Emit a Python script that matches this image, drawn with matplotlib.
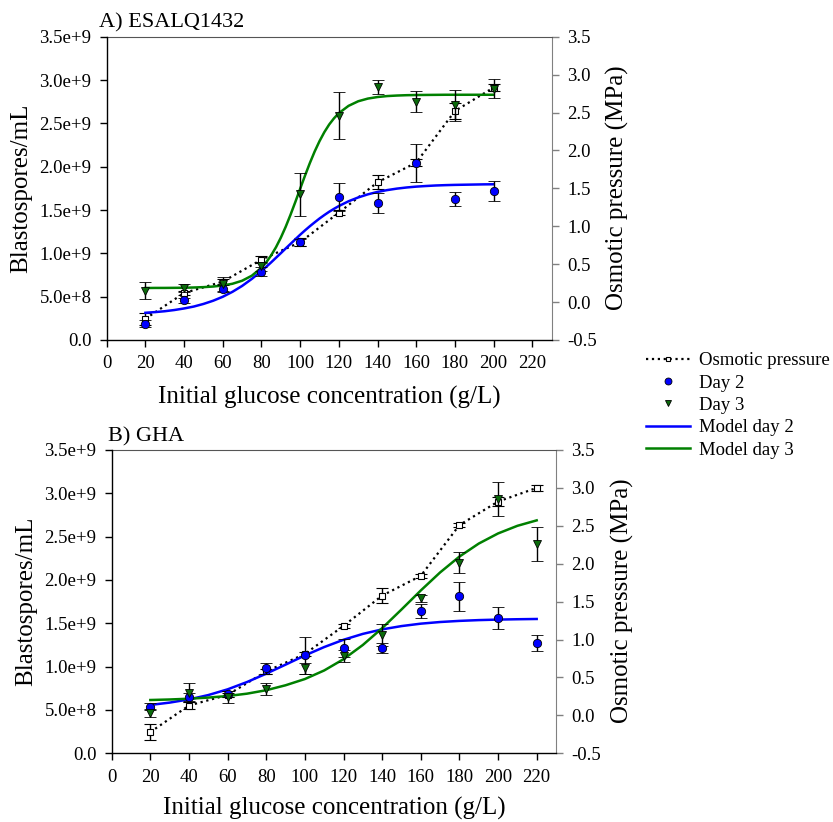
#!/usr/bin/env python
'''
Blastospore yield vs. initial glucose, two isolates,
with osmotic pressure of the media on the right axis.
'''
import numpy as np
import matplotlib
matplotlib.use('Agg')
import matplotlib.pyplot as plt
from matplotlib.lines import Line2D

plt.rcParams['font.family'] = ['Liberation Serif', 'DejaVu Serif']

# Constants
TICKFONT = 13.5
LABFONT = 18
TITLEFONT = 16

FIG_W = 8.33
FIG_H = 8.22

BLUE = '#0000ff'
GREEN = '#008000'
TRI = '#0b6b0b'
GRAY = '#808080'

# ---------------- data (blastospores in 1e9/mL, pressure in MPa) ----------------
conc_a = [20, 40, 60, 80, 100, 120, 140, 160, 180, 200]
osm_a = [-0.22, 0.12, 0.27, 0.56, 0.79, 1.18, 1.58, 1.84, 2.52, 2.83]
osm_a_err = [0.08, 0.03, 0.03, 0.05, 0.05, 0.03, 0.09, 0.05, 0.10, 0.05]
day2_a = [0.19, 0.46, 0.59, 0.79, 1.13, 1.65, 1.585, 2.04, 1.625, 1.72]
day2_a_err = [0.04, 0.03, 0.04, 0.05, 0.04, 0.16, 0.115, 0.22, 0.08, 0.12]
day3_a = [0.57, 0.60, 0.65, 0.85, 1.68, 2.59, 2.92, 2.75, 2.71, 2.90]
day3_a_err = [0.095, 0.045, 0.08, 0.05, 0.25, 0.27, 0.08, 0.12, 0.18, 0.11]

conc_b = [20, 40, 60, 80, 100, 120, 140, 160, 180, 200, 220]
osm_b = [-0.22, 0.13, 0.27, 0.58, 0.81, 1.18, 1.58, 1.84, 2.51, 2.82, 3.00]
osm_b_err = [0.105, 0.05, 0.03, 0.03, 0.03, 0.03, 0.097, 0.03, 0.03, 0.06, 0.04]
day2_b = [0.54, 0.65, 0.685, 0.98, 1.13, 1.215, 1.21, 1.64, 1.81, 1.56, 1.27]
day2_b_err = [0.045, 0.05, 0.03, 0.065, 0.21, 0.105, 0.058, 0.08, 0.17, 0.127, 0.095]
day3_b = [0.46, 0.70, 0.65, 0.745, 0.98, 1.12, 1.365, 1.79, 2.20, 2.93, 2.41]
day3_b_err = [0.046, 0.108, 0.073, 0.07, 0.06, 0.07, 0.13, 0.04, 0.125, 0.196, 0.196]

# fitted model curves
fit_x_a = [20, 25, 30, 35, 40, 45, 50, 55, 60, 65, 70, 75, 80, 82.5, 85, 87.5, 90, 92.5,
           95, 97.5, 100, 102.5, 105, 107.5, 110, 112.5, 115, 117.5, 120, 125, 130, 135,
           140, 145, 150, 155, 160, 165, 170, 175, 180, 185, 190, 195, 200]
fit2_a = [0.314, 0.322, 0.332, 0.346, 0.364, 0.386, 0.416, 0.453, 0.499, 0.556, 0.624,
          0.705, 0.796, 0.845, 0.896, 0.949, 1.002, 1.056, 1.109, 1.162, 1.215, 1.265,
          1.313, 1.358, 1.402, 1.442, 1.480, 1.514, 1.546, 1.601, 1.645, 1.681, 1.709,
          1.730, 1.747, 1.760, 1.770, 1.777, 1.783, 1.787, 1.790, 1.792, 1.794, 1.796, 1.797]
fit3_a = [0.600, 0.601, 0.601, 0.602, 0.603, 0.606, 0.610, 0.617, 0.629, 0.649, 0.684,
          0.742, 0.834, 0.898, 0.977, 1.071, 1.181, 1.306, 1.445, 1.593, 1.746, 1.897,
          2.042, 2.176, 2.295, 2.399, 2.487, 2.559, 2.618, 2.702, 2.755, 2.786, 2.804,
          2.815, 2.821, 2.825, 2.827, 2.828, 2.829, 2.830, 2.830, 2.830, 2.830, 2.830, 2.830]

fit_x_b = [20, 30, 40, 50, 60, 70, 80, 90, 100, 110, 120, 130, 140, 150, 160, 170,
           180, 190, 200, 210, 220]
fit2_b = [0.558, 0.585, 0.622, 0.672, 0.738, 0.822, 0.919, 1.023, 1.129, 1.226, 1.310,
          1.378, 1.430, 1.468, 1.496, 1.515, 1.528, 1.537, 1.543, 1.547, 1.550]
fit3_b = [0.615, 0.621, 0.630, 0.643, 0.661, 0.688, 0.728, 0.785, 0.857, 0.956, 1.086,
          1.250, 1.444, 1.659, 1.879, 2.087, 2.270, 2.420, 2.537, 2.625, 2.688]

# axis ticks
left_ticks = [0, 0.5e9, 1.0e9, 1.5e9, 2.0e9, 2.5e9, 3.0e9, 3.5e9]
left_labels = ['0.0', '5.0e+8', '1.0e+9', '1.5e+9', '2.0e+9', '2.5e+9', '3.0e+9', '3.5e+9']
right_ticks = [-0.5, 0.0, 0.5, 1.0, 1.5, 2.0, 2.5, 3.0, 3.5]
right_labels = ['-0.5', '0.0', '0.5', '1.0', '1.5', '2.0', '2.5', '3.0', '3.5']
x_ticks = list(range(0, 221, 20))


def draw_panel(fig, rect, conc, osm, osm_err, d2, d2_err, d3, d3_err,
               fx, f2, f3):
    ax = fig.add_axes(rect)
    ax2 = ax.twinx()
    # blastospores above the osmotic pressure trace
    ax.set_zorder(ax2.get_zorder() + 1)
    ax.patch.set_visible(False)

    ax2.errorbar(conc, osm, yerr=osm_err, color='k', ls=':', lw=1.6,
                 marker='s', ms=4.2, mfc='white', mec='k', mew=0.8,
                 ecolor='k', elinewidth=1, capsize=4.5, capthick=1)

    ax.plot(fx, np.array(f2) * 1e9, color=BLUE, lw=1.8, zorder=2)
    ax.plot(fx, np.array(f3) * 1e9, color=GREEN, lw=1.8, zorder=2)
    ax.errorbar(conc, np.array(d2) * 1e9, yerr=np.array(d2_err) * 1e9, fmt='o',
                ms=6, mfc=BLUE, mec='k', mew=0.6, ecolor='k', elinewidth=1,
                capsize=4.5, capthick=1, zorder=3)
    ax.errorbar(conc, np.array(d3) * 1e9, yerr=np.array(d3_err) * 1e9, fmt='v',
                ms=5.5, mfc=TRI, mec='k', mew=0.6, ecolor='k', elinewidth=1,
                capsize=4.5, capthick=1, zorder=3)

    ax.set_xlim(0, 230)
    ax.set_ylim(0, 3.5e9)
    ax2.set_ylim(-0.5, 3.5)
    ax.set_xticks(x_ticks)
    ax.set_xticklabels([str(t) for t in x_ticks])
    ax.set_yticks(left_ticks)
    ax.set_yticklabels(left_labels)
    ax2.set_yticks(right_ticks)
    ax2.set_yticklabels(right_labels)

    ax.spines['right'].set_visible(False)
    ax.spines['top'].set_visible(False)
    ax2.spines['left'].set_visible(False)
    ax2.spines['bottom'].set_visible(False)
    ax2.spines['right'].set_color(GRAY)
    ax2.spines['top'].set_color('#555555')
    for sp in ['left', 'bottom']:
        ax.spines[sp].set_linewidth(1.0)

    ax.tick_params(direction='out', length=5, width=1, labelsize=TICKFONT, pad=6)
    ax2.tick_params(direction='out', length=5, width=1, color=GRAY,
                    labelsize=TICKFONT, pad=6)
    return ax, ax2


def main():
    fig = plt.figure(figsize=[FIG_W, FIG_H], dpi=100)

    # panel A
    draw_panel(fig, [106.7/833, 1-340/822, 445/833, 303.3/822],
               conc_a, osm_a, osm_a_err, day2_a, day2_a_err, day3_a, day3_a_err,
               fit_x_a, fit2_a, fit3_a)
    fig.text(99/833, 1-23/822, 'A) ESALQ1432', fontsize=TITLEFONT, ha='left', va='center')
    fig.text(21/833, 1-188/822, 'Blastospores/mL', fontsize=LABFONT, rotation=90,
             ha='center', va='center')
    fig.text(617/833, 1-188/822, 'Osmotic pressure (MPa)', fontsize=LABFONT, rotation=90,
             ha='center', va='center')
    fig.text(329/833, 1-397/822, 'Initial glucose concentration (g/L)', fontsize=LABFONT,
             ha='center', va='center')

    # panel B
    draw_panel(fig, [111.7/833, 1-753.3/822, 444.3/833, 303.3/822],
               conc_b, osm_b, osm_b_err, day2_b, day2_b_err, day3_b, day3_b_err,
               fit_x_b, fit2_b, fit3_b)
    fig.text(108/833, 1-437/822, 'B) GHA', fontsize=TITLEFONT, ha='left', va='center')
    fig.text(26/833, 1-601/822, 'Blastospores/mL', fontsize=LABFONT, rotation=90,
             ha='center', va='center')
    fig.text(622/833, 1-601/822, 'Osmotic pressure (MPa)', fontsize=LABFONT, rotation=90,
             ha='center', va='center')
    fig.text(334/833, 1-808/822, 'Initial glucose concentration (g/L)', fontsize=LABFONT,
             ha='center', va='center')

    handles = [
        Line2D([], [], color='k', ls=':', lw=1.6, marker='s', ms=3.5, mfc='white',
               mec='k', mew=0.8),
        Line2D([], [], ls='none', marker='o', ms=5, mfc=BLUE, mec='k', mew=0.6),
        Line2D([], [], ls='none', marker='v', ms=4.5, mfc=TRI, mec='k', mew=0.6),
        Line2D([], [], color=BLUE, lw=1.8),
        Line2D([], [], color=GREEN, lw=1.8),
    ]
    labels = ['Osmotic pressure', 'Day 2', 'Day 3', 'Model day 2', 'Model day 3']
    fig.legend(handles, labels, loc='upper left', bbox_to_anchor=(646/833, 1-352/822),
               frameon=False, fontsize=TICKFONT, handlelength=2.35, handletextpad=0.5,
               labelspacing=0.28, borderpad=0, borderaxespad=0, numpoints=1)

    plt.savefig('out.png', dpi=100)
    plt.close('all')


if __name__ == "__main__":
    main()
